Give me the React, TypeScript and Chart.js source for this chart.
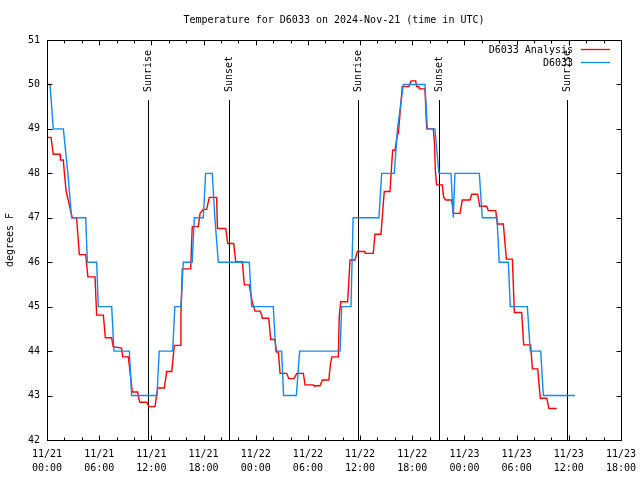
import React, { useEffect, useRef } from 'react';
import { Chart, registerables } from 'chart.js';

Chart.register(...registerables);

const titleText = 'Temperature for D6033 on 2024-Nov-21 (time in UTC)';
const yAxisTitle = 'degrees F';
const seriesNames = ['D6033 Analysis', 'D6033'];
const seriesColors = ['#ff0000', '#138af0'];

const xTickDates = ['11/21', '11/21', '11/21', '11/21', '11/22', '11/22', '11/22', '11/22', '11/23', '11/23', '11/23', '11/23'];
const xTickTimes = ['00:00', '06:00', '12:00', '18:00', '00:00', '06:00', '12:00', '18:00', '00:00', '06:00', '12:00', '18:00'];
const yMin = 42;
const yMax = 51;

// hours since 11/21 00:00 UTC
const analysisHours = [
  0, 0.46, 0.72, 1.5, 1.55, 1.88, 2.0, 2.2, 2.9, 3.4, 3.72, 4.45, 4.7, 5.52, 5.71, 6.48, 6.71, 7.44, 7.6, 8.58,
  8.7, 9.35, 9.81, 10.43, 10.55, 10.69, 11.46, 11.73, 12.42, 12.73, 13.49, 13.76, 14.34, 14.64, 15.3, 15.4, 15.56,
  16.52, 16.7, 17.4, 17.6, 17.97, 18.36, 18.66, 19.5, 19.6, 20.55, 20.78, 21.47, 21.7, 22.46, 22.69, 23.26, 23.6,
  23.92, 24.49, 24.7, 24.75, 25.5, 25.72, 26.2, 26.4, 26.6, 26.8, 27.56, 27.8, 28.4, 28.71, 29.48, 29.67, 30.62,
  30.7, 31.39, 31.66, 32.4, 32.6, 32.75, 33.5, 33.6, 33.77, 34.57, 34.84, 35.41, 35.68, 36.56, 36.6, 37.52, 37.71,
  38.4, 38.78, 39.44, 39.74, 40.01, 40.32, 40.4, 40.85, 41.62, 41.86, 42.39, 42.5, 42.77, 42.8, 43.46, 43.66, 44.42,
  44.55, 44.65, 44.8, 45.45, 45.6, 45.84, 46.53, 46.72, 47.49, 47.75, 48.64, 48.83, 49.52, 49.75, 50.56, 50.74,
  51.6, 51.78, 52.47, 52.82, 53.51, 53.74, 54.58, 54.81, 55.61, 55.81, 56.42, 56.72, 57.46, 57.72, 58.61,
];
const analysisTemps = [
  48.81, 48.81, 48.43, 48.43, 48.3, 48.3, 48.0, 47.6, 47.0, 47.0, 46.17, 46.17, 45.67, 45.67, 44.81, 44.81, 44.3,
  44.3, 44.1, 44.07, 43.87, 43.87, 43.08, 43.08, 42.93, 42.85, 42.85, 42.75, 42.75, 43.17, 43.17, 43.54, 43.54,
  44.13, 44.13, 44.8, 45.85, 45.85, 46.8, 46.8, 47.1, 47.19, 47.19, 47.46, 47.46, 46.76, 46.76, 46.42, 46.42, 46.01,
  46.01, 45.49, 45.49, 45.1, 44.9, 44.9, 44.81, 44.74, 44.74, 44.26, 44.26, 43.98, 43.98, 43.5, 43.5, 43.38, 43.38,
  43.5, 43.5, 43.24, 43.24, 43.22, 43.22, 43.35, 43.35, 43.72, 43.87, 43.87, 44.77, 45.11, 45.11, 46.05, 46.05,
  46.24, 46.24, 46.2, 46.2, 46.63, 46.63, 47.59, 47.59, 48.52, 48.52, 48.9, 48.9, 49.95, 49.95, 50.08, 50.08, 49.95,
  49.95, 49.9, 49.9, 49.0, 49.0, 48.7, 48.07, 47.74, 47.74, 47.47, 47.4, 47.4, 47.1, 47.1, 47.4, 47.4, 47.53, 47.53,
  47.26, 47.26, 47.16, 47.16, 46.86, 46.86, 46.07, 46.07, 44.87, 44.87, 44.14, 44.14, 43.6, 43.6, 42.94, 42.94,
  42.71, 42.71,
];

const obsHours = [
  0, 0.35, 0.72, 1.88, 2.4, 2.83, 4.45, 4.64, 5.71, 5.9, 7.44, 7.7, 9.47, 9.73, 12.65, 12.9, 14.45, 14.7, 15.4,
  15.67, 16.7, 16.94, 17.97, 18.24, 19.0, 19.3, 19.7, 23.26, 23.53, 26.02, 26.3, 26.98, 27.2, 28.67, 29.05, 33.7,
  33.88, 34.95, 35.2, 38.17, 38.48, 39.93, 40.3, 40.97, 43.46, 43.73, 44.6, 45.07, 46.45, 46.72, 46.9, 49.71,
  50.05, 51.74, 52.0, 53.04, 53.27, 55.23, 55.57, 56.77, 57.07, 60.7,
];
const obsTemps = [
  50, 50, 49, 49, 48, 47, 47, 46, 46, 45, 45, 44, 44, 43, 43, 44, 44, 45, 45, 46, 46, 47, 47, 48, 48, 47, 46, 46,
  45, 45, 44, 44, 43, 43, 44, 44, 45, 45, 47, 47, 48, 48, 49, 50, 50, 49, 49, 48, 48, 47, 48, 48, 47, 47, 46, 46,
  45, 45, 44, 44, 43, 43,
];

const sunriseHours = [11.65, 35.8, 59.83];
const sunsetHours = [20.96, 45.04];

const FONT = '"DejaVu Sans Mono", "Liberation Mono", monospace';

const gnuplotDecor = {
  id: 'gnuplotDecor',
  beforeDatasetsDraw(chart: any) {
    const { ctx, chartArea } = chart;
    const xs = chart.scales.x;
    const lineTop = chartArea.top + 0.15 * (chartArea.bottom - chartArea.top);
    const marks: [number, string][] = [
      ...sunriseHours.map((h) => [h, 'Sunrise'] as [number, string]),
      ...sunsetHours.map((h) => [h, 'Sunset'] as [number, string]),
    ];
    ctx.save();
    ctx.strokeStyle = '#000';
    ctx.lineWidth = 1;
    ctx.fillStyle = '#000';
    ctx.font = `10px ${FONT}`;
    for (const [h, label] of marks) {
      const px = Math.round(xs.getPixelForValue(h)) + 0.5;
      ctx.beginPath();
      ctx.moveTo(px, lineTop);
      ctx.lineTo(px, chartArea.bottom);
      ctx.stroke();
      ctx.save();
      ctx.translate(px, lineTop - 8);
      ctx.rotate(-Math.PI / 2);
      ctx.textAlign = 'left';
      ctx.textBaseline = 'middle';
      ctx.fillText(label, 0, 0);
      ctx.restore();
    }
    ctx.restore();
  },
  afterDraw(chart: any) {
    const { ctx, chartArea } = chart;
    const xs = chart.scales.x;
    const ys = chart.scales.y;
    const L = Math.round(chartArea.left) + 0.5;
    const R = Math.round(chartArea.right) + 0.5;
    const T = Math.round(chartArea.top) + 0.5;
    const B = Math.round(chartArea.bottom) + 0.5;
    ctx.save();
    ctx.strokeStyle = '#000';
    ctx.lineWidth = 1;
    ctx.strokeRect(L, T, R - L, B - T);
    ctx.beginPath();
    for (let h = xs.min; h <= xs.max + 1e-9; h += 2) {
      const px = Math.round(xs.getPixelForValue(h)) + 0.5;
      const len = h % 6 === 0 ? 5 : 3;
      ctx.moveTo(px, B);
      ctx.lineTo(px, B - len);
      ctx.moveTo(px, T);
      ctx.lineTo(px, T + len);
    }
    for (let v = yMin; v <= yMax; v += 1) {
      const py = Math.round(ys.getPixelForValue(v)) + 0.5;
      ctx.moveTo(L, py);
      ctx.lineTo(L + 5, py);
      ctx.moveTo(R, py);
      ctx.lineTo(R - 5, py);
    }
    ctx.stroke();

    ctx.fillStyle = '#000';
    ctx.font = `10px ${FONT}`;
    ctx.textAlign = 'center';
    ctx.textBaseline = 'middle';
    ctx.fillText(titleText, (chartArea.left + chartArea.right) / 2, 20);

    ctx.save();
    ctx.translate(10, (chartArea.top + chartArea.bottom) / 2);
    ctx.rotate(-Math.PI / 2);
    ctx.fillText(yAxisTitle, 0, 0);
    ctx.restore();

    // legend
    ctx.textAlign = 'right';
    seriesNames.forEach((name, i) => {
      const y = chartArea.top + 10 + i * 13;
      ctx.fillStyle = '#000';
      ctx.fillText(name, chartArea.right - 48, y);
      ctx.strokeStyle = seriesColors[i];
      ctx.lineWidth = 1.3;
      ctx.beginPath();
      ctx.moveTo(chartArea.right - 40, Math.round(y) - 0.5);
      ctx.lineTo(chartArea.right - 11, Math.round(y) - 0.5);
      ctx.stroke();
    });
    ctx.restore();
  },
};

export default function App() {
  const ref = useRef<HTMLCanvasElement | null>(null);

  useEffect(() => {
    document.body.style.margin = '0';
    const canvas = ref.current;
    if (!canvas) return;
    const chart = new Chart(canvas, {
      type: 'line',
      data: {
        datasets: [
          {
            label: seriesNames[0],
            data: analysisHours.map((h, i) => ({ x: h, y: analysisTemps[i] })),
            borderColor: seriesColors[0],
            borderWidth: 1.4,
            pointRadius: 0,
            tension: 0,
            fill: false,
            order: 1,
          },
          {
            label: seriesNames[1],
            data: obsHours.map((h, i) => ({ x: h, y: obsTemps[i] })),
            borderColor: seriesColors[1],
            borderWidth: 1.4,
            pointRadius: 0,
            tension: 0,
            fill: false,
            order: 0,
          },
        ],
      },
      options: {
        animation: false,
        responsive: false,
        devicePixelRatio: 1,
        layout: { padding: { top: 40, right: 19, left: 0, bottom: 0 } },
        plugins: {
          legend: { display: false },
          tooltip: { enabled: false },
          title: { display: false },
        },
        scales: {
          x: {
            type: 'linear',
            min: 0,
            max: 66,
            grid: { display: false, drawTicks: false },
            border: { display: false },
            afterFit: (s: any) => {
              s.height = 40;
              s.paddingLeft = 0;
              s.paddingRight = 0;
            },
            ticks: {
              stepSize: 6,
              autoSkip: false,
              maxRotation: 0,
              padding: 7,
              color: '#000',
              font: { family: FONT, size: 10, lineHeight: 1.4 },
              callback: (v: any) => {
                const i = Math.round(Number(v) / 6);
                return [xTickDates[i], xTickTimes[i]];
              },
            },
          },
          y: {
            min: yMin,
            max: yMax,
            grid: { display: false, drawTicks: false },
            border: { display: false },
            afterFit: (s: any) => {
              s.width = 47;
              s.paddingTop = 0;
              s.paddingBottom = 0;
            },
            ticks: {
              stepSize: 1,
              padding: 7,
              color: '#000',
              font: { family: FONT, size: 10 },
            },
          },
        },
      },
      plugins: [gnuplotDecor],
    });
    return () => chart.destroy();
  }, []);

  return <canvas ref={ref} width={640} height={480} style={{ display: 'block' }} />;
}
